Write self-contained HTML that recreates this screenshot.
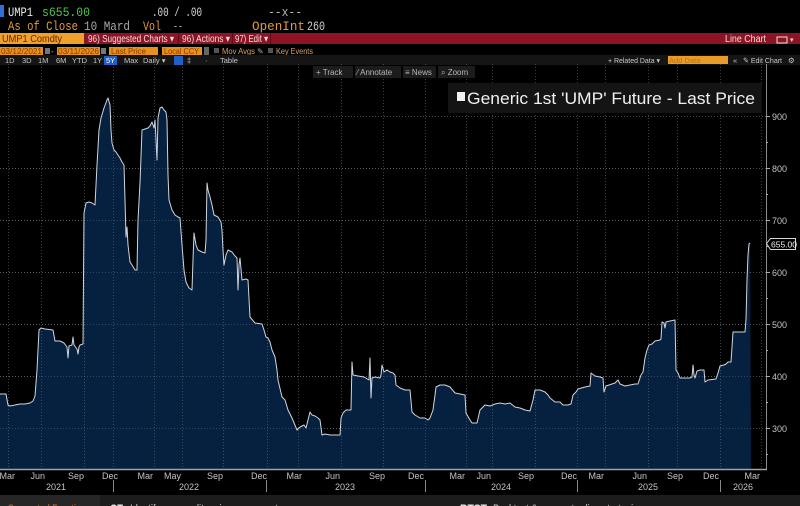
<!DOCTYPE html>
<html><head><meta charset="utf-8"><style>
html,body{margin:0;padding:0;background:#000;}
svg{display:block;}
text{font-family:"Liberation Sans",sans-serif;}
.mono{font-family:"Liberation Mono",monospace;}
</style></head><body>
<svg width="800" height="506" viewBox="0 0 800 506" xmlns="http://www.w3.org/2000/svg">
<rect x="0" y="0" width="800" height="506" fill="#000"/>

<!-- header row 1 -->
<rect x="0" y="5" width="4" height="12" fill="#2e6fd8"/>
<text class="mono" x="8" y="16" font-size="13" fill="#e8e8e8" textLength="25" lengthAdjust="spacingAndGlyphs">UMP1</text>
<text class="mono" x="42" y="16" font-size="13" fill="#4fc44f" textLength="48" lengthAdjust="spacingAndGlyphs">s655.00</text>
<text class="mono" x="152" y="16" font-size="13" fill="#d8d8d8" textLength="50" lengthAdjust="spacingAndGlyphs">.00 / .00</text>
<text class="mono" x="268" y="16" font-size="13" fill="#b8b8b8" textLength="34" lengthAdjust="spacingAndGlyphs">--x--</text>
<!-- header row 2 -->
<text class="mono" x="8" y="30" font-size="13" fill="#e39a3c" textLength="70" lengthAdjust="spacingAndGlyphs">As of Close</text>
<text class="mono" x="84" y="30" font-size="13" fill="#a8a8a8" textLength="46" lengthAdjust="spacingAndGlyphs">10 Mard</text>
<text class="mono" x="143" y="30" font-size="13" fill="#e39a3c" textLength="18" lengthAdjust="spacingAndGlyphs">Vol</text>
<text class="mono" x="173" y="30" font-size="13" fill="#a8a8a8" textLength="10" lengthAdjust="spacingAndGlyphs">--</text>
<text class="mono" x="252" y="30" font-size="13" fill="#e39a3c" textLength="53" lengthAdjust="spacingAndGlyphs">OpenInt</text>
<text class="mono" x="307" y="30" font-size="13" fill="#d0d0d0" textLength="18" lengthAdjust="spacingAndGlyphs">260</text>

<!-- red bar -->
<rect x="0" y="33" width="800" height="11" fill="#8c1424"/>
<rect x="0" y="33" width="84" height="11" fill="#f0a12c"/>
<text x="2" y="42" font-size="10" fill="#6a2000" textLength="60" lengthAdjust="spacingAndGlyphs">UMP1 Comdty</text>
<rect x="178" y="33" width="1" height="11" fill="#5e0a16"/>
<rect x="232" y="33" width="1" height="11" fill="#5e0a16"/>
<rect x="270" y="33" width="1" height="11" fill="#5e0a16"/>
<text x="88" y="42" font-size="10" fill="#f2dede" textLength="86" lengthAdjust="spacingAndGlyphs">96) Suggested Charts ▾</text>
<text x="182" y="42" font-size="10" fill="#f2dede" textLength="48" lengthAdjust="spacingAndGlyphs">96) Actions ▾</text>
<text x="235" y="42" font-size="10" fill="#f2dede" textLength="33" lengthAdjust="spacingAndGlyphs">97) Edit ▾</text>
<text x="725" y="42" font-size="10" fill="#f2dede" textLength="41" lengthAdjust="spacingAndGlyphs">Line Chart</text>
<rect x="777" y="37" width="10" height="6" fill="none" stroke="#f2dede" stroke-width="1"/>
<text x="790" y="42" font-size="7" fill="#f2dede">▾</text>

<!-- row 3 -->
<rect x="0" y="47" width="43" height="8" fill="#e8901c"/>
<text x="1" y="54" font-size="8" fill="#8a3a00" textLength="41" lengthAdjust="spacingAndGlyphs">03/12/2021</text>
<rect x="45" y="48" width="5" height="6" fill="#777"/>
<text x="51" y="54" font-size="8" fill="#bbb">-</text>
<rect x="57" y="47" width="43" height="8" fill="#e8901c"/>
<text x="58" y="54" font-size="8" fill="#8a3a00" textLength="41" lengthAdjust="spacingAndGlyphs">03/11/2026</text>
<rect x="101" y="48" width="5" height="6" fill="#777"/>
<rect x="109" y="47" width="49" height="8" fill="#e8901c"/>
<text x="111" y="54" font-size="8" fill="#8a3a00" textLength="35" lengthAdjust="spacingAndGlyphs">Last Price</text>
<rect x="162" y="47" width="40" height="8" fill="#e8901c"/>
<text x="164" y="54" font-size="8" fill="#8a3a00" textLength="35" lengthAdjust="spacingAndGlyphs">Local CCY</text>
<rect x="204" y="47" width="5" height="8" fill="#666"/>
<rect x="214" y="48" width="5" height="5" fill="#555"/>
<text x="222" y="54" font-size="8" fill="#d8a060" textLength="33" lengthAdjust="spacingAndGlyphs">Mov Avgs</text>
<text x="257" y="54" font-size="8" fill="#aaa">✎</text>
<rect x="268" y="48" width="5" height="5" fill="#555"/>
<text x="276" y="54" font-size="8" fill="#d8a060" textLength="37" lengthAdjust="spacingAndGlyphs">Key Events</text>

<!-- row 4 -->
<rect x="0" y="55" width="800" height="10" fill="#151515"/>
<g font-size="7.5" fill="#c8c8c8">
<text x="5" y="63">1D</text><text x="22" y="63">3D</text><text x="38" y="63">1M</text><text x="56" y="63">6M</text>
<text x="72" y="63">YTD</text><text x="93" y="63">1Y</text>
<rect x="104" y="56" width="13" height="9" fill="#1f5fc8"/>
<text x="106" y="63" fill="#fff">5Y</text>
<text x="124" y="63">Max</text><text x="143" y="63">Daily ▾</text>
<rect x="174" y="56" width="9" height="9" fill="#1f5fc8"/>
<text x="187" y="63">‡</text><text x="205" y="63">·</text><text x="220" y="63">Table</text>
<text x="608" y="63" textLength="52" lengthAdjust="spacingAndGlyphs">+ Related Data ▾</text>
<rect x="668" y="56" width="60" height="8" fill="#e89a2a"/>
<text x="669" y="63" fill="#c07010">Add Data</text>
<text x="733" y="63">«</text>
<text x="743" y="63" textLength="39" lengthAdjust="spacingAndGlyphs">✎ Edit Chart</text>
<text x="788" y="63">⚙</text>
</g>

<!-- chart area -->
<g stroke="#4a4a4a" stroke-width="1" stroke-dasharray="1,2">
<line x1="0" y1="116.5" x2="766" y2="116.5"/>
<line x1="0" y1="168.5" x2="766" y2="168.5"/>
<line x1="0" y1="220.5" x2="766" y2="220.5"/>
<line x1="0" y1="272.5" x2="766" y2="272.5"/>
<line x1="0" y1="324.5" x2="766" y2="324.5"/>
<line x1="0" y1="376.5" x2="766" y2="376.5"/>
<line x1="0" y1="428.5" x2="766" y2="428.5"/>
</g>

<polygon fill="#06203f" points="0,469 0,394 6,394 8,405 10,406 15,405 20,404 25,404 30,403 33,401 35,396 37,370 39,330 41,328 45,329 53,330 55,341 60,341 64,343 67,347 68,358 69,346 72,345 73,337 74,345 77,349 78,354 79,347 80,345 83,344 84,213 86,203 89,202 92,203 95,205 97,165 99,130 101,118 104,108 107,100 108,98 110,105 111,130 112,143 114,150 116,152 118,155 120,158 122,162 124,165 125,200 126,237 127,227 128,245 130,262 132,265 135,270 137,270 138,220 140,183 142,130 145,129 148,128 150,126 152,122 154,128 155,120 157,160 158,118 160,108 162,107 164,110 166,112 167,120 168,175 169,200 172,210 175,215 178,217 180,218 182,245 184,270 186,282 189,288 192,290 193,260 194,233 196,245 198,250 202,252 205,253 206,240 207,183 208,190 210,197 212,205 214,215 218,217 221,222 222,230 223,250 224,265 226,255 228,250 232,252 235,256 237,258 238,290 239,265 240,258 242,280 246,279 248,280 250,317 255,323 262,324 264,330 266,337 268,338 270,342 272,350 275,357 277,370 278,380 282,397 285,400 288,410 292,418 297,430 300,427 302,426 304,425 306,428 308,420 310,412 312,415 315,416 318,418 320,420 322,435 325,434 330,435 335,435 340,435 341,418 343,413 346,410 351,410 352,362 353,375 358,376 364,377 369,380 370,358 371,398 372,378 375,377 380,378 381,375 382,365 384,372 387,370 390,372 393,373 395,375 396,385 400,388 405,390 410,390 412,412 415,415 420,418 425,418 428,420 430,418 433,410 435,395 436,387 440,385 445,385 450,387 455,393 460,394 465,395 466,413 470,420 472,423 477,423 480,410 483,407 485,405 490,406 495,404 500,403 505,404 510,403 515,407 520,408 525,410 530,411 533,400 535,390 540,390 545,392 548,395 550,398 555,402 560,402 563,405 568,405 571,404 573,395 576,392 578,389 585,387 590,386 591,373 595,376 600,377 603,378 604,392 606,386 612,384 615,383 618,380 620,384 625,386 630,385 635,384 638,384 641,375 643,372 645,358 647,350 649,345 652,344 655,341 660,340 661,339 662,322 664,323 665,328 666,322 670,321 675,320 676,370 678,373 680,378 684,378 690,378 692,377 693,365 694,375 695,378 697,371 700,370 704,370 705,382 708,380 716,379 718,373 720,366 724,365 726,364 728,362 731,362 733,332 736,332 745,332 746,320 747,280 748,255 749,244 750,243 751,469"/>

<!-- vertical grid -->
<g stroke="#6a7480" stroke-opacity="0.55" stroke-width="1" stroke-dasharray="1,2">
<line x1="8.5" y1="64" x2="8.5" y2="469"/><line x1="41.5" y1="64" x2="41.5" y2="469"/>
<line x1="84.5" y1="64" x2="84.5" y2="469"/><line x1="113.5" y1="64" x2="113.5" y2="469"/>
<line x1="154.5" y1="64" x2="154.5" y2="469"/><line x1="182.5" y1="64" x2="182.5" y2="469"/>
<line x1="223.5" y1="64" x2="223.5" y2="469"/><line x1="267.5" y1="64" x2="267.5" y2="469"/>
<line x1="298.5" y1="64" x2="298.5" y2="469"/><line x1="341.5" y1="64" x2="341.5" y2="469"/>
<line x1="383.5" y1="64" x2="383.5" y2="469"/><line x1="425.5" y1="64" x2="425.5" y2="469"/>
<line x1="466.5" y1="64" x2="466.5" y2="469"/><line x1="492.5" y1="64" x2="492.5" y2="469"/>
<line x1="535.5" y1="64" x2="535.5" y2="469"/><line x1="577.5" y1="64" x2="577.5" y2="469"/>
<line x1="605.5" y1="64" x2="605.5" y2="469"/><line x1="648.5" y1="64" x2="648.5" y2="469"/>
<line x1="677.5" y1="64" x2="677.5" y2="469"/><line x1="720.5" y1="64" x2="720.5" y2="469"/>
<line x1="761.5" y1="64" x2="761.5" y2="469"/>
</g>
<g stroke="#6a7480" stroke-opacity="0.45" stroke-width="1" stroke-dasharray="1,2">
<line x1="0" y1="376.5" x2="751" y2="376.5"/>
<line x1="0" y1="428.5" x2="751" y2="428.5"/>
<line x1="0" y1="324.5" x2="751" y2="324.5"/>
<line x1="0" y1="272.5" x2="751" y2="272.5"/>
<line x1="0" y1="220.5" x2="751" y2="220.5"/>
<line x1="0" y1="168.5" x2="751" y2="168.5"/>
</g>

<polyline fill="none" stroke="#d0d6de" stroke-width="1" stroke-linejoin="round" points="0,394 6,394 8,405 10,406 15,405 20,404 25,404 30,403 33,401 35,396 37,370 39,330 41,328 45,329 53,330 55,341 60,341 64,343 67,347 68,358 69,346 72,345 73,337 74,345 77,349 78,354 79,347 80,345 83,344 84,213 86,203 89,202 92,203 95,205 97,165 99,130 101,118 104,108 107,100 108,98 110,105 111,130 112,143 114,150 116,152 118,155 120,158 122,162 124,165 125,200 126,237 127,227 128,245 130,262 132,265 135,270 137,270 138,220 140,183 142,130 145,129 148,128 150,126 152,122 154,128 155,120 157,160 158,118 160,108 162,107 164,110 166,112 167,120 168,175 169,200 172,210 175,215 178,217 180,218 182,245 184,270 186,282 189,288 192,290 193,260 194,233 196,245 198,250 202,252 205,253 206,240 207,183 208,190 210,197 212,205 214,215 218,217 221,222 222,230 223,250 224,265 226,255 228,250 232,252 235,256 237,258 238,290 239,265 240,258 242,280 246,279 248,280 250,317 255,323 262,324 264,330 266,337 268,338 270,342 272,350 275,357 277,370 278,380 282,397 285,400 288,410 292,418 297,430 300,427 302,426 304,425 306,428 308,420 310,412 312,415 315,416 318,418 320,420 322,435 325,434 330,435 335,435 340,435 341,418 343,413 346,410 351,410 352,362 353,375 358,376 364,377 369,380 370,358 371,398 372,378 375,377 380,378 381,375 382,365 384,372 387,370 390,372 393,373 395,375 396,385 400,388 405,390 410,390 412,412 415,415 420,418 425,418 428,420 430,418 433,410 435,395 436,387 440,385 445,385 450,387 455,393 460,394 465,395 466,413 470,420 472,423 477,423 480,410 483,407 485,405 490,406 495,404 500,403 505,404 510,403 515,407 520,408 525,410 530,411 533,400 535,390 540,390 545,392 548,395 550,398 555,402 560,402 563,405 568,405 571,404 573,395 576,392 578,389 585,387 590,386 591,373 595,376 600,377 603,378 604,392 606,386 612,384 615,383 618,380 620,384 625,386 630,385 635,384 638,384 641,375 643,372 645,358 647,350 649,345 652,344 655,341 660,340 661,339 662,322 664,323 665,328 666,322 670,321 675,320 676,370 678,373 680,378 684,378 690,378 692,377 693,365 694,375 695,378 697,371 700,370 704,370 705,382 708,380 716,379 718,373 720,366 724,365 726,364 728,362 731,362 733,332 736,332 745,332 746,320 747,280 748,255 749,244 750,243"/>

<!-- toolbar overlay -->
<g font-size="8" fill="#b8b8b8">
<rect x="313" y="66" width="40" height="12" fill="#1c1c1c"/>
<text x="316" y="75">+ Track</text>
<rect x="355" y="66" width="46" height="12" fill="#1c1c1c"/>
<text x="357" y="75">⁄ Annotate</text>
<rect x="403" y="66" width="33" height="12" fill="#1c1c1c"/>
<text x="405" y="75">≡ News</text>
<rect x="438" y="66" width="37" height="12" fill="#1c1c1c"/>
<text x="441" y="75">⌕ Zoom</text>
</g>

<!-- legend -->
<rect x="448" y="83" width="314" height="30" fill="#141414"/>
<rect x="457" y="92" width="8" height="9" fill="#f2f2f2"/>
<text x="467" y="104" font-size="17" fill="#f0f0f0" textLength="288" lengthAdjust="spacingAndGlyphs">Generic 1st 'UMP' Future - Last Price</text>

<!-- right axis -->
<line x1="766.5" y1="64" x2="766.5" y2="470" stroke="#8a8a8a" stroke-width="1"/>
<g stroke="#aaa" stroke-width="1">
<line x1="766" y1="116.5" x2="770" y2="116.5"/><line x1="766" y1="168.5" x2="770" y2="168.5"/>
<line x1="766" y1="220.5" x2="770" y2="220.5"/><line x1="766" y1="272.5" x2="770" y2="272.5"/>
<line x1="766" y1="324.5" x2="770" y2="324.5"/><line x1="766" y1="376.5" x2="770" y2="376.5"/>
<line x1="766" y1="428.5" x2="770" y2="428.5"/>
<line x1="766" y1="142.5" x2="768" y2="142.5"/><line x1="766" y1="194.5" x2="768" y2="194.5"/>
<line x1="766" y1="246.5" x2="768" y2="246.5"/><line x1="766" y1="298.5" x2="768" y2="298.5"/>
<line x1="766" y1="350.5" x2="768" y2="350.5"/><line x1="766" y1="402.5" x2="768" y2="402.5"/>
<line x1="766" y1="454.5" x2="768" y2="454.5"/>
</g>
<g font-size="9" fill="#c4c4c4">
<text x="772" y="120">900</text><text x="772" y="172">800</text><text x="772" y="224">700</text>
<text x="772" y="276">600</text><text x="772" y="328">500</text><text x="772" y="380">400</text>
<text x="772" y="432">300</text>
</g>
<polygon points="766.5,243.5 770.5,238.5 795.5,238.5 795.5,249.5 770.5,249.5" fill="#000" stroke="#d8d8d8" stroke-width="1"/>
<text x="771" y="247.5" font-size="8.5" fill="#f0f0f0">655.00</text>

<!-- x axis -->
<line x1="0" y1="469.5" x2="767" y2="469.5" stroke="#9aa4ae" stroke-width="1.5"/>
<g font-size="9" fill="#c4c4c4" text-anchor="end">
<text x="15" y="479">Mar</text><text x="45" y="479">Jun</text><text x="84" y="479">Sep</text>
<text x="118" y="479">Dec</text><text x="153" y="479">Mar</text><text x="181" y="479">May</text>
<text x="223" y="479">Sep</text><text x="267" y="479">Dec</text><text x="302" y="479">Mar</text>
<text x="340" y="479">Jun</text><text x="385" y="479">Sep</text><text x="424" y="479">Dec</text>
<text x="465" y="479">Mar</text><text x="491" y="479">Jun</text><text x="534" y="479">Sep</text>
<text x="577" y="479">Dec</text><text x="604" y="479">Mar</text><text x="647" y="479">Jun</text>
<text x="683" y="479">Sep</text><text x="719" y="479">Dec</text><text x="760" y="479">Mar</text>
</g>
<g font-size="9" fill="#c4c4c4" text-anchor="middle">
<text x="56" y="490">2021</text><text x="189" y="490">2022</text><text x="345" y="490">2023</text>
<text x="501" y="490">2024</text><text x="648" y="490">2025</text><text x="743" y="490">2026</text>
</g>
<g stroke="#888" stroke-width="1">
<line x1="113.5" y1="480" x2="113.5" y2="492"/><line x1="266.5" y1="480" x2="266.5" y2="492"/>
<line x1="425.5" y1="480" x2="425.5" y2="492"/><line x1="577.5" y1="480" x2="577.5" y2="492"/>
<line x1="720.5" y1="480" x2="720.5" y2="492"/>
</g>

<!-- bottom bar -->
<rect x="0" y="495" width="800" height="11" fill="#1c1c1c"/>
<rect x="0" y="495" width="100" height="11" fill="#262626"/>
<text x="8" y="512" font-size="11" fill="#d07820" textLength="82" lengthAdjust="spacingAndGlyphs">Suggested Functions</text>
<text x="110" y="512" font-size="11" fill="#f0f0f0" font-weight="bold" textLength="13" lengthAdjust="spacingAndGlyphs">GT</text>
<text x="130" y="512" font-size="11" fill="#d0d0d0" textLength="148" lengthAdjust="spacingAndGlyphs">Identify commodity price movement</text>
<text x="460" y="512" font-size="11" fill="#f0f0f0" font-weight="bold" textLength="27" lengthAdjust="spacingAndGlyphs">BTST</text>
<text x="493" y="512" font-size="11" fill="#d0d0d0" textLength="150" lengthAdjust="spacingAndGlyphs">Backtest &amp; assess trading strategies</text>
</svg>
</body></html>
